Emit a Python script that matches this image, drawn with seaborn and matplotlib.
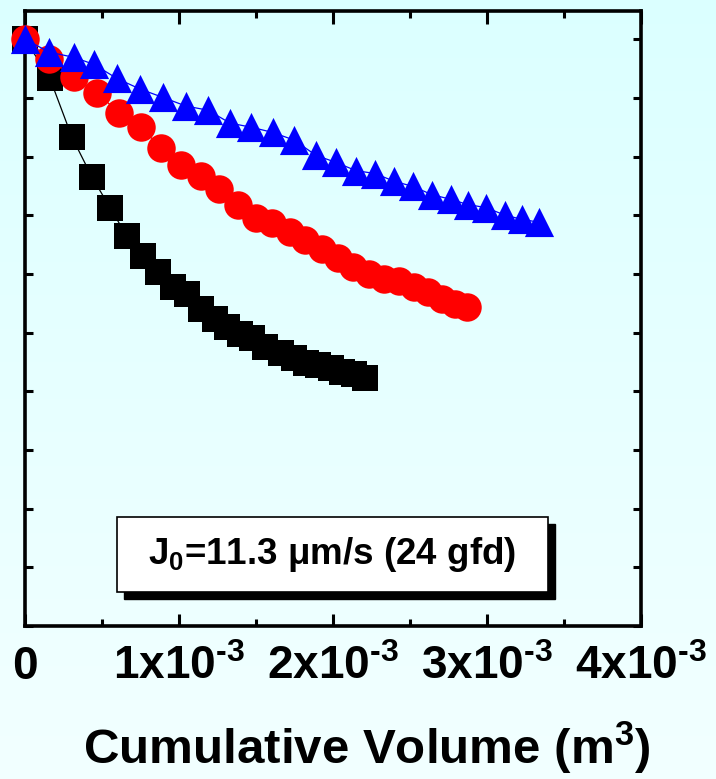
import numpy as np
import pandas as pd
import matplotlib
matplotlib.use("Agg")
import matplotlib.pyplot as plt
from matplotlib.patches import Rectangle
from matplotlib.ticker import MultipleLocator, FixedLocator, FixedFormatter
import seaborn as sns

# ---- data (x in units of 1e-3 m^3, y = normalized flux) ----
black_x = [0, 0.162, 0.305, 0.435, 0.552, 0.662, 0.766, 0.864, 0.961, 1.052, 1.143, 1.234,
           1.312, 1.396, 1.474, 1.558, 1.662, 1.747, 1.825, 1.903, 1.987, 2.058, 2.136, 2.208]
black_y = [1.000, 0.933, 0.833, 0.765, 0.713, 0.664, 0.630, 0.604, 0.577, 0.565, 0.541, 0.524,
           0.509, 0.497, 0.490, 0.476, 0.466, 0.456, 0.449, 0.445, 0.439, 0.432, 0.430, 0.423]

red_x = [0, 0.156, 0.318, 0.468, 0.610, 0.753, 0.886, 1.013, 1.143, 1.260, 1.380, 1.497, 1.607,
         1.721, 1.821, 1.929, 2.032, 2.133, 2.234, 2.328, 2.429, 2.523, 2.617, 2.708, 2.795, 2.870]
red_y = [1.000, 0.967, 0.935, 0.908, 0.875, 0.850, 0.814, 0.785, 0.766, 0.744, 0.718, 0.696, 0.686,
         0.671, 0.657, 0.642, 0.627, 0.612, 0.599, 0.591, 0.588, 0.578, 0.569, 0.557, 0.549, 0.544]

blue_x = [0, 0.156, 0.318, 0.448, 0.597, 0.747, 0.893, 1.045, 1.188, 1.331, 1.468, 1.610, 1.747,
          1.890, 2.019, 2.149, 2.273, 2.396, 2.519, 2.643, 2.766, 2.877, 2.994, 3.117, 3.227, 3.338]
blue_y = [1.000, 0.978, 0.969, 0.957, 0.933, 0.915, 0.901, 0.886, 0.879, 0.857, 0.850, 0.841, 0.828,
          0.802, 0.790, 0.776, 0.771, 0.758, 0.749, 0.735, 0.727, 0.718, 0.713, 0.700, 0.693, 0.688]

x_tick_values = [0, 1e-3, 2e-3, 3e-3, 4e-3]
x_tick_labels = ["0", "1x10$^{\\text{-3}}$", "2x10$^{\\text{-3}}$", "3x10$^{\\text{-3}}$", "4x10$^{\\text{-3}}$"]
x_label = "Cumulative Volume (m$^{3}$)"
box_text = "J$_{0}$=11.3 \u03bcm/s (24 gfd)"

# ---- style ----
sns.set_style("ticks")
plt.rcParams["font.family"] = ["Liberation Sans", "DejaVu Sans"]
plt.rcParams["font.weight"] = "bold"
plt.rcParams["text.color"] = "black"
plt.rcParams["axes.labelcolor"] = "black"
plt.rcParams["xtick.color"] = "black"
plt.rcParams["ytick.color"] = "black"
plt.rcParams["axes.edgecolor"] = "black"
plt.rcParams["mathtext.fontset"] = "custom"
plt.rcParams["mathtext.rm"] = "Liberation Sans:bold"
plt.rcParams["mathtext.it"] = "Liberation Sans:bold"
plt.rcParams["mathtext.bf"] = "Liberation Sans:bold"
plt.rcParams["mathtext.default"] = "rm"

W, H = 716, 779
fig = plt.figure(figsize=(W / 100, H / 100), dpi=100)

# gradient background
bg = fig.add_axes([0, 0, 1, 1], zorder=-10)
grad = np.linspace(0, 1, 256).reshape(-1, 1)
top = np.array([0.86, 1.0, 1.0])
bot = np.array([0.95, 1.0, 1.0])
img = top[None, None, :] * (1 - grad[:, :, None]) + bot[None, None, :] * grad[:, :, None]
bg.imshow(img, aspect="auto", extent=[0, 1, 0, 1], origin="upper")
bg.axis("off")

ax_l, ax_r, ax_t, ax_b = 25, 641, 11, 626
ax = fig.add_axes([ax_l / W, 1 - ax_b / H, (ax_r - ax_l) / W, (ax_b - ax_t) / H])
ax.set_facecolor("none")

def df_of(xs, ys):
    return pd.DataFrame({"x": np.array(xs) * 1e-3, "y": ys})

series = [
    (black_x, black_y, "black", "s", 19.0),
    (red_x, red_y, "#ff0000", "o", 20.5),
    (blue_x, blue_y, "#0000ff", "^", 21.0),
]
for i, (xs, ys, c, m, ms) in enumerate(series):
    d = df_of(xs, ys)
    sns.lineplot(data=d, x="x", y="y", sort=False, color=c, linewidth=0.9,
                 ax=ax, zorder=3 + 2 * i, legend=False)
    sns.scatterplot(data=d, x="x", y="y", color=c, marker=m, s=ms ** 2,
                    linewidth=0, ax=ax, zorder=4 + 2 * i, clip_on=False, legend=False)

ax.set_xlim(0, 4e-3)
ax.set_ylim(0, 1.048)

ax.xaxis.set_major_locator(FixedLocator(x_tick_values))
ax.xaxis.set_major_formatter(FixedFormatter(x_tick_labels))
ax.xaxis.set_minor_locator(MultipleLocator(0.5e-3))
ax.yaxis.set_major_locator(MultipleLocator(0.1))
ax.set_yticklabels([])
ax.tick_params(axis="x", which="major", direction="in", length=9, width=2.2,
               top=True, bottom=True, labelsize=33, pad=14, colors="black")
ax.tick_params(axis="x", which="minor", direction="in", length=5, width=2.2,
               top=True, bottom=True)
ax.tick_params(axis="y", which="major", direction="in", length=6, width=2.2,
               left=True, right=True, labelleft=False)
for lab in ax.get_xticklabels():
    lab.set_fontweight("bold")
    lab.set_color("black")
for s in ax.spines.values():
    s.set_linewidth(2.6)
    s.set_color("black")
    s.set_visible(True)
ax.set_xlabel("")
ax.set_ylabel("")

# annotation box with shadow
bx0, bx1 = (117 - ax_l) / (ax_r - ax_l), (548 - ax_l) / (ax_r - ax_l)
by0, by1 = (ax_b - 592) / (ax_b - ax_t), (ax_b - 517) / (ax_b - ax_t)
dx, dy = 7 / (ax_r - ax_l), 7 / (ax_b - ax_t)
ax.add_patch(Rectangle((bx0 + dx, by0 - dy), bx1 - bx0, by1 - by0, transform=ax.transAxes,
                       facecolor="black", edgecolor="black", zorder=10))
ax.add_patch(Rectangle((bx0, by0), bx1 - bx0, by1 - by0, transform=ax.transAxes,
                       facecolor="white", edgecolor="black", linewidth=1.2, zorder=11))
ax.text((bx0 + bx1) / 2, (by0 + by1) / 2, box_text, transform=ax.transAxes,
        ha="center", va="center", fontsize=26.5, fontweight="bold", color="black", zorder=12)

fig.text(366.5 / W, 1 - 764 / H, x_label, ha="center", va="baseline",
         fontsize=35.5, fontweight="bold", color="black")

fig.savefig("out.png", dpi=100)
